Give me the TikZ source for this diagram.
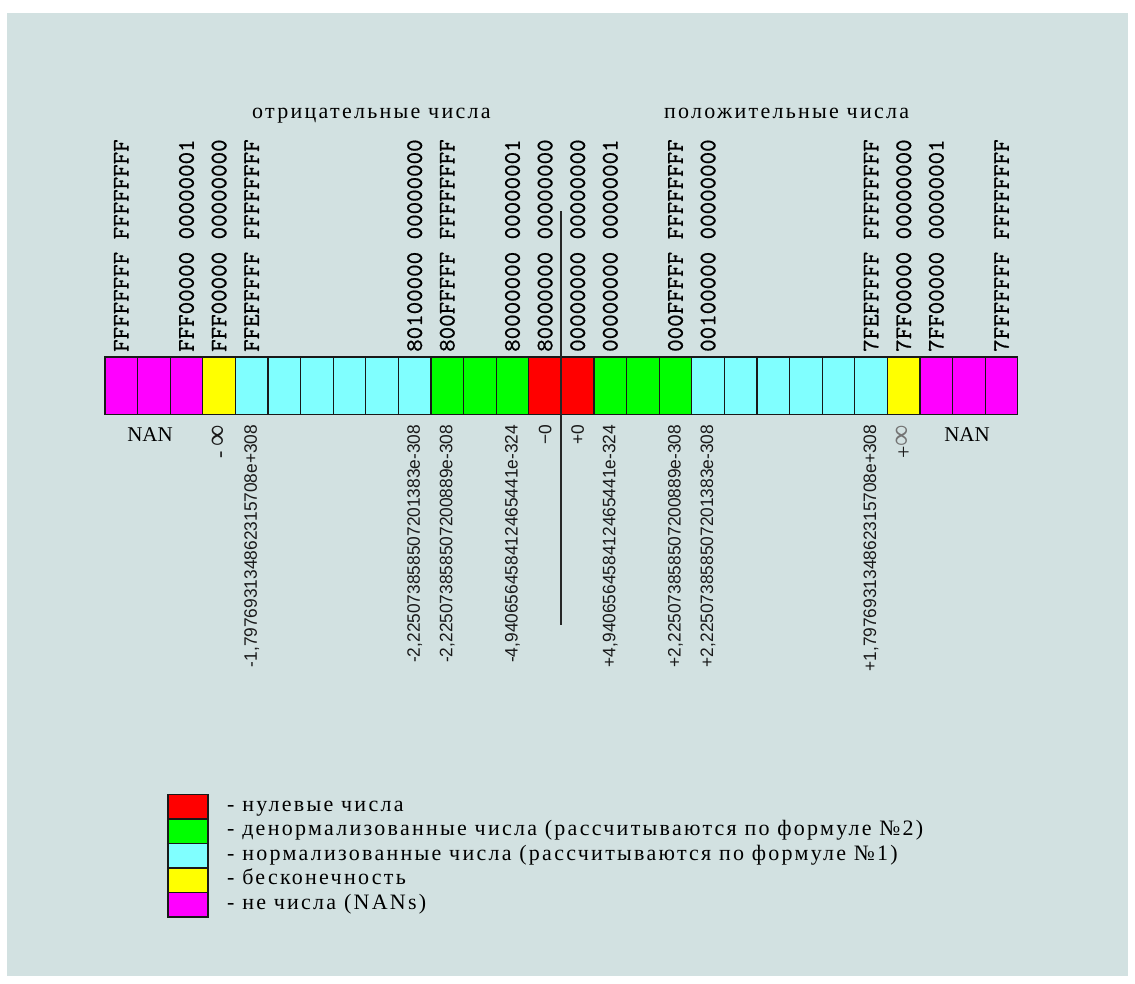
\documentclass[tikz,border=0pt]{standalone}
\usepackage{fontspec}
\newfontfamily\rufont{Liberation Serif}[LetterSpace=10.3]
\newfontfamily\capfont{Liberation Serif}
\newfontfamily\valfont{Liberation Sans}[FakeStretch=0.963]
\newfontfamily\hexfont{lmmono10-regular}[Extension=.otf, FakeBold=0.6]
\definecolor{panel}{RGB}{210,225,225}
\definecolor{zmag}{RGB}{255,0,255}
\definecolor{zyel}{RGB}{255,255,0}
\definecolor{zcy}{RGB}{128,255,255}
\definecolor{zgr}{RGB}{0,255,0}
\definecolor{zred}{RGB}{255,0,0}
\begin{document}
\begin{tikzpicture}[x=1pt,y=-1pt,
  cell/.style={draw=black!90, line width=1.3pt, minimum width=32.6pt,
    minimum height=57.5pt, inner sep=0pt, outer sep=0pt, anchor=north west},
  hexlab/.style={rotate=90, anchor=west, inner sep=0pt,
    font=\hexfont\fontsize{23.8}{24}\selectfont, text=black},
  vallab/.style={rotate=90, anchor=east, inner sep=0pt,
    font=\valfont\fontsize{18}{20}\selectfont, text=black!90},
  inflab/.style={vallab, font=\capfont\fontsize{22}{24}\selectfont},
  rutext/.style={inner sep=0pt, anchor=base west,
    font=\rufont\fontsize{22}{24}\selectfont, text=black},
  nanlab/.style={inner sep=0pt, font=\capfont\fontsize{21}{24}\selectfont, text=black},
  keybox/.style={draw=black!90, line width=1.2pt, minimum width=40pt,
    minimum height=24.5pt, inner sep=0pt, outer sep=0pt, anchor=north west}]
% page and panel
\fill[white] (0,0) rectangle (1135,983);
\fill[panel] (7,13) rectangle (1128,976);

% headers
\node[rutext] (neg) at (252,118) {отрицательные числа};
\node[rutext] (pos) at (664,118) {положительные числа};

% the row of 28 cells
\foreach \c [count=\i] in {zmag,zmag,zmag,zyel,zcy,zcy,zcy,zcy,zcy,zcy,
    zgr,zgr,zgr,zred,zred,zgr,zgr,zgr,zcy,zcy,zcy,zcy,zcy,zcy,zyel,zmag,zmag,zmag}
  \node[cell, fill=\c] (c\i) at ({105+(\i-1)*32.6}, 357) {};

% hexadecimal codes above the cells
\foreach \i/\t in {1/{FFFFFFFF FFFFFFFF}, 3/{FFF00000 00000001},
    4/{FFF00000 00000000}, 5/{FFEFFFFF FFFFFFFF}, 10/{80100000 00000000},
    11/{800FFFFF FFFFFFFF}, 13/{80000000 00000001}, 14/{80000000 00000000},
    15/{00000000 00000000}, 16/{00000000 00000001}, 18/{000FFFFF FFFFFFFF},
    19/{00100000 00000000}, 24/{7FEFFFFF FFFFFFFF}, 25/{7FF00000 00000000},
    26/{7FF00000 00000001}, 28/{7FFFFFFF FFFFFFFF}}
  \node[hexlab] (h\i) at ([yshift=5pt]c\i.north) {\t};

% decimal values below the cells
\foreach \i/\t in {5/{-1,797693134862315708e+308}, 10/{-2,225073858507201383e-308},
    11/{-2,225073858507200889e-308}, 13/{-4,940656458412465441e-324},
    14/{−0}, 15/{+0}, 16/{+4,940656458412465441e-324},
    18/{+2,225073858507200889e-308}, 19/{+2,225073858507201383e-308},
    24/{+1,797693134862315708e+308}}
  \node[vallab] (v\i) at ([yshift=-10pt]c\i.south) {\t};
\node[inflab] (v4) at ([yshift=-10pt]c4.south)
  {- {\fontsize{30}{30}\selectfont∞}};
\node[inflab] (v25) at ([yshift=-10pt]c25.south)
  {+{\fontsize{30}{30}\selectfont\textcolor{black!55}{∞}}};
\node[nanlab] (nanl) at (150,435) {NAN};
\node[nanlab] (nanr) at (967,435) {NAN};

% zero axis
\coordinate (axtop) at (561,211);
\coordinate (axbot) at (561,625);
\draw[line width=2.8pt, black!85] (axtop) -- (axbot);

% key
\foreach \c/\t [count=\k] in {zred/{- нулевые числа},
    zgr/{- денормализованные числа (рассчитываются по формуле №2)},
    zcy/{- нормализованные числа (рассчитываются по формуле №1)},
    zyel/{- бесконечность},
    zmag/{- не числа (NANs)}} {
  \node[keybox, fill=\c] (k\k) at (168, {794.5+(\k-1)*24.5}) {};
  \node[rutext] (kt\k) at ([xshift=19pt, yshift=-4.5pt]k\k.east) {\t};
}
\end{tikzpicture}
\end{document}
